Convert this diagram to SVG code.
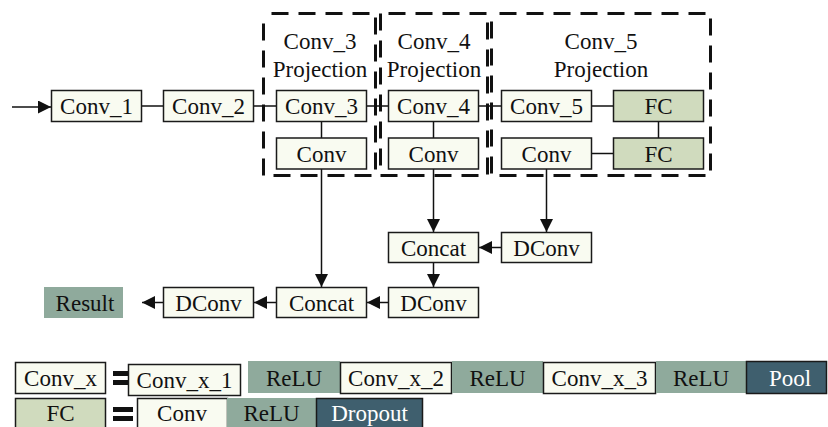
<svg xmlns="http://www.w3.org/2000/svg" width="828" height="427" viewBox="0 0 828 427">
  <defs>
    <marker id="arrow" markerUnits="userSpaceOnUse" markerWidth="14" markerHeight="14" refX="13" refY="6.5" orient="auto">
      <path d="M0,0 L13,6.5 L0,13 Z" fill="#111"/>
    </marker>
    <style>
      text { font-family: "Liberation Serif", "Times New Roman", serif; font-size: 23px; fill: #111; text-anchor: middle; }
      .conv { fill: #f9fbf1; stroke: #1a1a1a; stroke-width: 1.5; }
      .fc { fill: #d0dbbe; stroke: #1a1a1a; stroke-width: 1.5; }
      .res { fill: #8faa9c; stroke: none; }
      .dark { fill: #3f5f6e; stroke: #1a1a1a; stroke-width: 1.5; }
      text.light { fill: #ffffff; }
      .group { fill: none; stroke: #111; stroke-width: 3; stroke-dasharray: 17 10; stroke-dashoffset: -8; }
      .link { fill: none; stroke: #111; stroke-width: 1.5; }
      .arr { fill: none; stroke: #111; stroke-width: 1.5; marker-end: url(#arrow); }
      .eq { fill: #111; }
    </style>
  </defs>

  <!-- projection groups -->
  <g id="proj3">
    <rect class="group" x="263.5" y="13.5" width="112" height="162"/>
    <text x="320" y="49">Conv_3</text>
    <text x="320" y="77">Projection</text>
  </g>
  <g id="proj4">
    <rect class="group" x="380.5" y="13.5" width="107" height="162"/>
    <text x="434" y="49">Conv_4</text>
    <text x="434" y="77">Projection</text>
  </g>
  <g id="proj5">
    <rect class="group" x="491.5" y="13.5" width="219" height="162"/>
    <text x="601" y="49">Conv_5</text>
    <text x="601" y="77">Projection</text>
  </g>

  <!-- connectors -->
  <g id="connectors">
    <line class="arr" x1="12" y1="107" x2="51" y2="107"/>
    <line class="link" x1="142" y1="106" x2="163" y2="106"/>
    <line class="link" x1="254" y1="106" x2="276" y2="106"/>
    <line class="link" x1="367" y1="106" x2="388" y2="106"/>
    <line class="link" x1="479" y1="106" x2="501" y2="106"/>
    <line class="link" x1="592" y1="106" x2="613" y2="106"/>
    <line class="link" x1="321.5" y1="122" x2="321.5" y2="138"/>
    <line class="link" x1="433.5" y1="122" x2="433.5" y2="138"/>
    <line class="link" x1="658.5" y1="122" x2="658.5" y2="138"/>
    <line class="link" x1="592" y1="153.5" x2="613" y2="153.5"/>
    <line class="arr" x1="321.5" y1="169" x2="321.5" y2="287"/>
    <line class="arr" x1="433.5" y1="169" x2="433.5" y2="232"/>
    <line class="arr" x1="546.5" y1="169" x2="546.5" y2="232"/>
    <line class="arr" x1="501" y1="247.5" x2="479" y2="247.5"/>
    <line class="arr" x1="433.5" y1="263" x2="433.5" y2="287"/>
    <line class="arr" x1="388" y1="302.5" x2="367" y2="302.5"/>
    <line class="arr" x1="276" y1="302.5" x2="254" y2="302.5"/>
    <line class="arr" x1="163" y1="302.5" x2="142" y2="302.5"/>
  </g>

  <!-- backbone -->
  <g id="conv1"><rect class="conv" x="51.5" y="90.5" width="90" height="31"/><text x="96.5" y="114">Conv_1</text></g>
  <g id="conv2"><rect class="conv" x="163.5" y="90.5" width="90" height="31"/><text x="208.5" y="114">Conv_2</text></g>
  <g id="conv3"><rect class="conv" x="276.5" y="90.5" width="90" height="31"/><text x="321.5" y="114">Conv_3</text></g>
  <g id="conv4"><rect class="conv" x="388.5" y="90.5" width="90" height="31"/><text x="433.5" y="114">Conv_4</text></g>
  <g id="conv5"><rect class="conv" x="501.5" y="90.5" width="90" height="31"/><text x="546.5" y="114">Conv_5</text></g>
  <g id="fc1"><rect class="fc" x="613.5" y="90.5" width="90" height="31"/><text x="658.5" y="114">FC</text></g>

  <!-- projection heads -->
  <g id="proj3-conv"><rect class="conv" x="276.5" y="138" width="90" height="31"/><text x="321.5" y="161.5">Conv</text></g>
  <g id="proj4-conv"><rect class="conv" x="388.5" y="138" width="90" height="31"/><text x="433.5" y="161.5">Conv</text></g>
  <g id="proj5-conv"><rect class="conv" x="501.5" y="138" width="90" height="31"/><text x="546.5" y="161.5">Conv</text></g>
  <g id="fc2"><rect class="fc" x="613.5" y="138" width="90" height="31"/><text x="658.5" y="161.5">FC</text></g>

  <!-- decoder -->
  <g id="concat-upper"><rect class="conv" x="388.5" y="232.5" width="90" height="30"/><text x="433.5" y="255.5">Concat</text></g>
  <g id="dconv-right"><rect class="conv" x="501.5" y="232.5" width="90" height="30"/><text x="546.5" y="255.5">DConv</text></g>
  <g id="dconv-mid"><rect class="conv" x="388.5" y="287.5" width="90" height="30"/><text x="433.5" y="310.5">DConv</text></g>
  <g id="concat-lower"><rect class="conv" x="276.5" y="287.5" width="90" height="30"/><text x="321.5" y="310.5">Concat</text></g>
  <g id="dconv-left"><rect class="conv" x="163.5" y="287.5" width="90" height="30"/><text x="208.5" y="310.5">DConv</text></g>
  <g id="result"><rect class="res" x="44" y="287" width="79" height="31"/><text x="85" y="310.5">Result</text></g>

  <!-- legend: Conv_x block -->
  <g id="legend-convx">
    <rect class="conv" x="15.5" y="362.5" width="90" height="31"/>
    <text x="60.5" y="386">Conv_x</text>
    <rect class="eq" x="113" y="371" width="15" height="5"/>
    <rect class="eq" x="113" y="380" width="15" height="5"/>
    <rect class="conv" x="128.5" y="364.5" width="112" height="31"/>
    <text x="184.5" y="388">Conv_x_1</text>
    <rect class="res" x="248" y="361" width="92" height="32"/>
    <text x="294" y="386">ReLU</text>
    <rect class="conv" x="340.5" y="362.5" width="111" height="31"/>
    <text x="396" y="386">Conv_x_2</text>
    <rect class="res" x="452" y="361" width="91" height="32"/>
    <text x="497.5" y="386">ReLU</text>
    <rect class="conv" x="543.5" y="362.5" width="112" height="31"/>
    <text x="599.5" y="386">Conv_x_3</text>
    <rect class="res" x="656" y="361" width="90" height="32"/>
    <text x="701" y="386">ReLU</text>
    <rect class="dark" x="746.5" y="361.5" width="80" height="32"/>
    <text class="light" x="790" y="386">Pool</text>
  </g>

  <!-- legend: FC block -->
  <g id="legend-fc">
    <rect class="fc" x="15.5" y="398.5" width="90" height="34"/>
    <text x="60.5" y="421">FC</text>
    <rect class="eq" x="113" y="407" width="20" height="5"/>
    <rect class="eq" x="113" y="416" width="20" height="5"/>
    <rect class="conv" x="137.5" y="398.5" width="90" height="34"/>
    <text x="182" y="421">Conv</text>
    <rect class="res" x="227" y="398" width="89" height="34"/>
    <text x="271.5" y="421">ReLU</text>
    <rect class="dark" x="316.5" y="398.5" width="106" height="34"/>
    <text class="light" x="369.5" y="421">Dropout</text>
  </g>
</svg>
